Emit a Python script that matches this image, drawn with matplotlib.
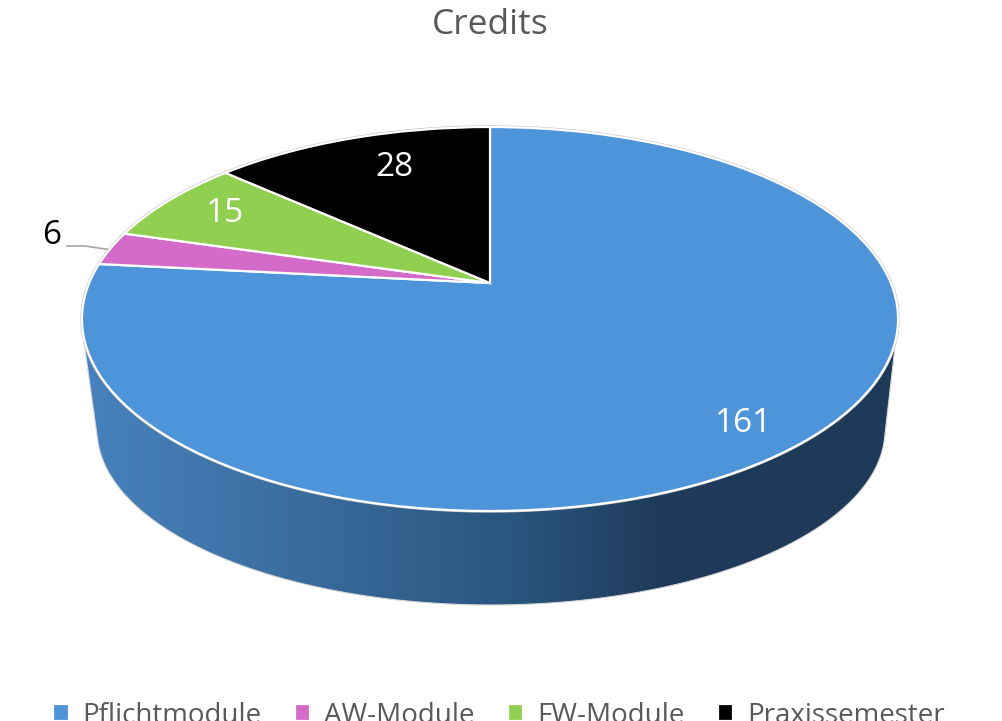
import numpy as np
import matplotlib
matplotlib.use('Agg')
import matplotlib.pyplot as plt
from matplotlib.colors import LinearSegmentedColormap
from matplotlib.patches import PathPatch
from matplotlib.path import Path
from matplotlib.transforms import Transform

modules = ['Pflichtmodule', 'AW-Module', 'FW-Module', 'Praxissemester']
credits = [161, 6, 15, 28]
colors = ['#4E94D8', '#D46BC9', '#91CF50', '#000000']

plt.rcParams['font.family'] = ['Open Sans', 'DejaVu Sans']
GREY = '#595959'


# the slices are tilted with perspective, so the centre sits above the ellipse middle
class Tilt(Transform):
    input_dims = 2
    output_dims = 2

    def transform_non_affine(self, xy):
        xy = np.asarray(xy, dtype=float)
        d = 1 + 0.1875 * xy[:, 1]
        return np.column_stack([490 + 400.8 * xy[:, 0] / d, 283 - 185.25 * xy[:, 1] / d])

    def transform_path_non_affine(self, path):
        return Path(self.transform_non_affine(path.vertices), path.codes)


fig = plt.figure(figsize=(10.02, 7.21), dpi=100)
ax = fig.add_axes([0, 0, 1, 1])

wedges, _ = ax.pie(credits, colors=colors, startangle=90, counterclock=False,
                   wedgeprops={'edgecolor': 'white', 'linewidth': 1.6, 'zorder': 3})
tilt = Tilt()
for w in wedges:
    w.set_transform(tilt + ax.transData)

# side wall: top rim tangent points plus lower half of the bottom ellipse
t = np.linspace(np.pi * 1.02, np.pi * 1.98, 200)
wall_x = 491 + 394 * np.cos(t)
wall_y = 430 - 175 * np.sin(t)
wall = np.column_stack([
    np.r_[84, wall_x, 896, 490],
    np.r_[342, wall_y, 338, 283],
])
wall_cmap = LinearSegmentedColormap.from_list('wall', [
    (0.0, '#4682BE'), (0.27, '#3A6C9C'), (0.52, '#2A5680'),
    (0.72, '#1E3A58'), (1.0, '#1F3B59')])
img = ax.imshow(np.linspace(0, 1, 400).reshape(1, -1), cmap=wall_cmap, aspect='auto',
                extent=[85, 896, 610, 280], zorder=1)
clip = PathPatch(Path(wall), transform=ax.transData, facecolor='none', edgecolor='#d8d8d8',
                 linewidth=0.8, zorder=2)
ax.add_patch(clip)
img.set_clip_path(clip)

# faint grey halo around the top
th = np.linspace(0, 2 * np.pi, 400)
rim = tilt.transform_non_affine(np.column_stack([np.sin(th), np.cos(th)]))
ax.plot(rim[:, 0], rim[:, 1], color='#c4c4c4', lw=2.4, zorder=2.5)

ax.set_aspect('auto')
ax.set_xlim(0, 1002)
ax.set_ylim(721, 0)
ax.axis('off')

ax.text(490, 25, 'Credits', color=GREY, fontsize=25.5, ha='center', va='center')

ax.text(744, 423, str(credits[0]), color='white', fontsize=24, ha='center', va='center', zorder=5)
ax.text(52, 235, str(credits[1]), color='black', fontsize=24, ha='center', va='center', zorder=5)
ax.text(225, 214, str(credits[2]), color='white', fontsize=24, ha='center', va='center', zorder=5)
ax.text(394, 167, str(credits[3]), color='white', fontsize=24, ha='center', va='center', zorder=5)
ax.plot([67, 85, 112], [246, 246, 250], color='#a6a6a6', lw=1.2, zorder=2.6)

ax.legend(wedges, modules, ncol=4, loc='lower center', bbox_to_anchor=(0.498, -0.012),
          frameon=False, fontsize=20, labelcolor=GREY, handlelength=0.55, handleheight=0.55,
          handletextpad=0.5, columnspacing=1.2, borderpad=0, borderaxespad=0)

fig.savefig('out.png', dpi=100)
